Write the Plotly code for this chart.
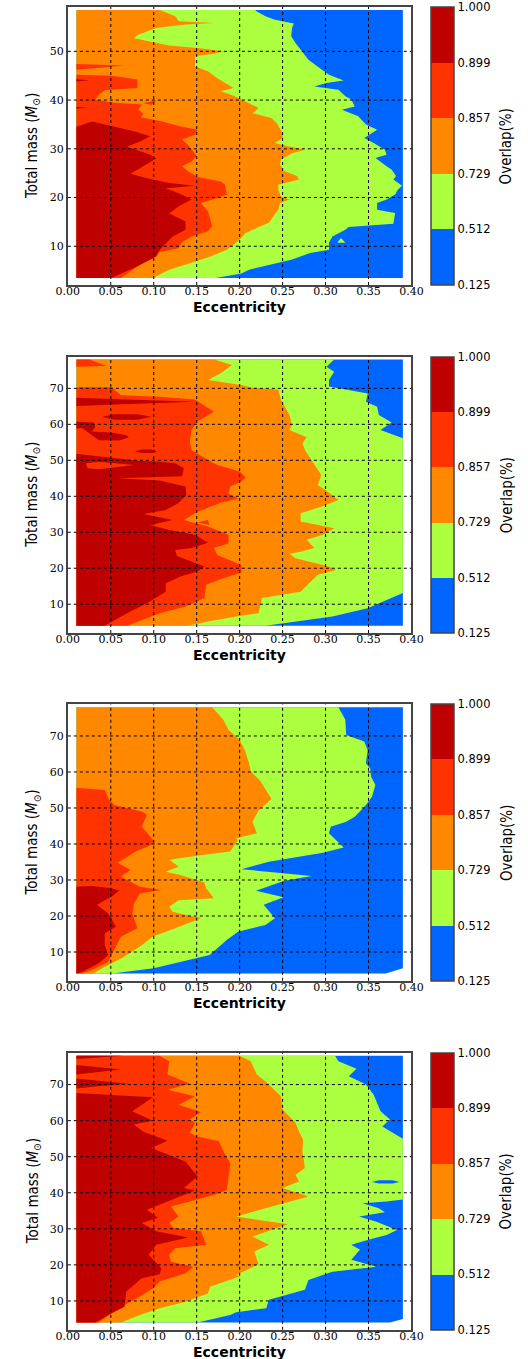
import plotly.graph_objects as go

W, H = 528, 1359

# Overlap levels and the colour of each band between consecutive levels
LEVELS = [0.125, 0.512, 0.729, 0.857, 0.899, 1.000]
BAND_COLORS = ["#0066FF", "#ABFF3F", "#FF8800", "#FF3300", "#BF0000"]

ECC_TICKS = [0.00, 0.05, 0.10, 0.15, 0.20, 0.25, 0.30, 0.35, 0.40]
MASS_TICKS_SHORT = [10, 20, 30, 40, 50]
MASS_TICKS_LONG = [10, 20, 30, 40, 50, 60, 70]

ECC_MIN = 0.01  # smallest eccentricity of the computed grid

# ---------------------------------------------------------------- panel 1
P1_OUT_E = [0.01, 0.39, 0.39, 0.01]
P1_OUT_M = [58.5, 58.5, 3.5, 3.5]

P1_M_512 = [58.5, 58.2, 57.2, 56.5, 55.7, 54.8, 53.1, 51.7, 50.0, 48.3, 46.6, 45.2, 44.0, 43.5, 42.8,
            42.1, 40.8, 40.1, 38.7, 38.0, 36.7, 35.0, 33.9, 32.2, 31.2, 29.8, 28.8, 28.1, 26.4, 25.7,
            24.4, 23.7, 22.4, 21.6, 20.6, 19.6, 18.9, 17.5, 16.8, 14.6, 13.95, 13.4, 12.0, 10.7, 9.3,
            8.6, 7.25, 5.9, 5.2, 4.4, 3.5]
P1_E_512 = [0.218, 0.220, 0.230, 0.241, 0.263, 0.261, 0.260, 0.265, 0.273, 0.280, 0.293, 0.304, 0.321,
            0.301, 0.287, 0.315, 0.323, 0.330, 0.334, 0.319, 0.338, 0.347, 0.360, 0.345, 0.356, 0.369,
            0.371, 0.358, 0.371, 0.377, 0.382, 0.379, 0.389, 0.384, 0.381, 0.371, 0.360, 0.360, 0.381,
            0.379, 0.327, 0.323, 0.308, 0.304, 0.304, 0.282, 0.260, 0.226, 0.211, 0.202, 0.172]

P1_M_729 = [58.5, 57.2, 56.2, 55.8, 55.5, 54.8, 53.4, 52.7, 52.1, 51.2, 50.7, 50.0, 49.5, 49.0, 46.9,
            45.9, 44.5, 43.5, 42.5, 41.8, 40.9, 40.1, 39.4, 38.4, 37.3, 36.3, 35.3, 33.2, 32.2, 31.2,
            30.8, 29.8, 29.1, 27.8, 26.7, 25.4, 24.4, 23.7, 22.6, 21.6, 20.2, 19.6, 18.9, 17.5, 16.1,
            14.8, 13.7, 12.7, 11.4, 10.3, 9.3, 7.9, 6.6, 5.2, 3.5]
P1_E_729 = [0.107, 0.125, 0.129, 0.170, 0.137, 0.103, 0.082, 0.077, 0.092, 0.118, 0.151, 0.181, 0.170,
            0.148, 0.148, 0.163, 0.174, 0.183, 0.193, 0.178, 0.193, 0.202, 0.211, 0.222, 0.215, 0.237,
            0.243, 0.250, 0.250, 0.241, 0.250, 0.276, 0.261, 0.248, 0.247, 0.252, 0.267, 0.269, 0.245,
            0.245, 0.248, 0.258, 0.247, 0.245, 0.239, 0.234, 0.219, 0.207, 0.200, 0.193, 0.185, 0.166,
            0.144, 0.118, 0.099]

P1_M_857 = [47.4, 47.1, 46.2, 45.2, 45.0, 44.2, 42.5, 42.0, 41.1, 40.1, 39.5, 39.1, 38.0, 37.2, 36.5,
            35.6, 34.7, 33.9, 32.9, 31.9, 30.8, 28.5, 27.4, 26.4, 25.4, 24.2, 23.3, 22.6, 20.6, 19.9,
            18.9, 17.2, 14.1, 13.1, 12.0, 10.8, 9.6, 8.8, 6.2, 3.5]
P1_E_857 = [0.01, 0.066, 0.01, 0.01, 0.051, 0.081, 0.081, 0.043, 0.036, 0.032, 0.051, 0.086, 0.082,
            0.088, 0.085, 0.110, 0.129, 0.151, 0.148, 0.133, 0.140, 0.150, 0.144, 0.133, 0.140, 0.151,
            0.178, 0.183, 0.185, 0.174, 0.155, 0.163, 0.168, 0.163, 0.144, 0.133, 0.129, 0.107, 0.084,
            0.062]

P1_M_899 = [34.5, 35.6, 34.7, 33.6, 32.6, 31.5, 30.4, 28.8, 28.0, 26.4, 24.9, 24.0, 23.0, 22.4, 21.9,
            20.9, 19.6, 18.2, 16.7, 15.1, 13.4, 12.0, 9.3, 7.9, 5.9, 3.5]
P1_E_899 = [0.01, 0.028, 0.051, 0.077, 0.096, 0.084, 0.069, 0.096, 0.103, 0.088, 0.073, 0.091, 0.118,
            0.148, 0.114, 0.129, 0.144, 0.129, 0.118, 0.137, 0.137, 0.122, 0.107, 0.103, 0.081, 0.051]

P1_ISLE_GREEN_M = [10.7, 10.7, 11.7]
P1_ISLE_GREEN_E = [0.3135, 0.323, 0.318]
P1_ISLE_RED_M = [39.4, 39.9, 39.0]
P1_ISLE_RED_E = [0.088, 0.103, 0.097]
P1_ISLE_DARK_A_M = [38.6, 38.4, 38.2]
P1_ISLE_DARK_A_E = [0.01, 0.023, 0.01]
P1_ISLE_DARK_B_M = [44.25, 44.05, 43.8]
P1_ISLE_DARK_B_E = [0.01, 0.025, 0.01]

# ---------------------------------------------------------------- panel 2
P2_OUT_E = [0.01, 0.39, 0.39, 0.01]
P2_OUT_M = [78.0, 78.0, 4.0, 4.0]

P2_M_512 = [78.0, 76.0, 74.6, 72.3, 70.5, 68.6, 66.3, 64.9, 62.6, 60.5, 58.4, 56.1, 13.1, 8.9, 6.6, 4.0]
P2_E_512 = [0.310, 0.301, 0.310, 0.304, 0.304, 0.349, 0.347, 0.360, 0.362, 0.377, 0.364, 0.39, 0.39,
            0.349, 0.308, 0.230]

P2_M_729 = [78.0, 76.5, 74.2, 72.3, 70.9, 70.2, 69.7, 66.8, 62.6, 59.8, 58.4, 56.4, 54.7, 52.9, 50.6,
            48.7, 45.9, 43.1, 41.9, 39.0, 37.1, 35.3, 33.0, 31.1, 29.3, 27.9, 25.6, 24.6, 24.0, 22.8,
            20.5, 19.5, 18.2, 13.5, 11.7, 7.5, 6.6, 5.2, 4.0]
P2_E_729 = [0.170, 0.191, 0.178, 0.163, 0.202, 0.215, 0.245, 0.248, 0.258, 0.261, 0.258, 0.278, 0.273,
            0.276, 0.282, 0.287, 0.295, 0.291, 0.299, 0.315, 0.295, 0.271, 0.271, 0.310, 0.297, 0.278,
            0.287, 0.271, 0.258, 0.265, 0.304, 0.312, 0.291, 0.271, 0.226, 0.222, 0.196, 0.163, 0.140]

P2_M_857 = [78.0, 78.0, 76.2, 76.0, 70.3, 70.3, 68.1, 67.7, 66.9, 63.5, 60.7, 58.4, 55.2, 52.9, 50.1,
            48.7, 46.9, 45.2, 44.1, 42.7, 40.8, 39.4, 38.2, 35.7, 33.4, 31.6, 29.3, 26.9, 25.6, 23.7,
            20.9, 18.8, 17.2, 15.4, 11.7, 9.4, 7.5, 4.0]
P2_E_857 = [0.01, 0.025, 0.045, 0.01, 0.01, 0.051, 0.062, 0.107, 0.148, 0.170, 0.150, 0.144, 0.142,
            0.144, 0.163, 0.174, 0.200, 0.207, 0.202, 0.189, 0.187, 0.198, 0.178, 0.151, 0.135, 0.163,
            0.187, 0.187, 0.170, 0.174, 0.202, 0.202, 0.181, 0.161, 0.159, 0.137, 0.107, 0.069]

P2_M_899 = [51.8, 51.2, 50.6, 49.9, 49.6, 49.2, 47.8, 45.6, 45.0, 44.4, 42.7, 40.4, 38.1, 36.2, 35.1,
            33.4, 32.0, 30.6, 29.3, 27.1, 25.6, 25.1, 23.4, 20.5, 19.1, 17.7, 15.8, 13.5, 10.3, 7.5, 4.0]
P2_E_899 = [0.01, 0.032, 0.054, 0.081, 0.107, 0.125, 0.135, 0.133, 0.058, 0.107, 0.137, 0.138, 0.129,
            0.114, 0.088, 0.122, 0.096, 0.118, 0.148, 0.163, 0.144, 0.125, 0.127, 0.159, 0.151, 0.131,
            0.114, 0.114, 0.092, 0.069, 0.043]

P2_ISLE_RED_A_M = [49.2, 49.6, 48.7, 47.5, 47.8]
P2_ISLE_RED_A_E = [0.021, 0.036, 0.077, 0.036, 0.023]
P2_ISLE_RED_B_M = [32.7, 33.4, 32.0]
P2_ISLE_RED_B_E = [0.151, 0.163, 0.165]
P2_ISLE_DARK_A_M = [67.4, 66.9, 66.3, 65.8, 65.1]
P2_ISLE_DARK_A_E = [0.01, 0.069, 0.148, 0.088, 0.01]
P2_ISLE_DARK_B_M = [62.1, 62.8, 62.8, 62.1, 61.3, 61.3]
P2_ISLE_DARK_B_E = [0.040, 0.054, 0.081, 0.097, 0.081, 0.054]
P2_ISLE_DARK_C_M = [60.7, 60.5, 59.2, 58.0, 57.7, 57.0, 56.4, 55.5, 55.6, 57.0, 58.9, 58.9]
P2_ISLE_DARK_C_E = [0.01, 0.030, 0.032, 0.028, 0.051, 0.068, 0.071, 0.060, 0.036, 0.028, 0.017, 0.01]
P2_ISLE_DARK_D_M = [52.5, 53.0, 53.0, 52.5, 52.0, 52.0]
P2_ISLE_DARK_D_E = [0.078, 0.086, 0.097, 0.104, 0.097, 0.086]

# ---------------------------------------------------------------- panel 3
P3_OUT_E = [0.01, 0.39, 0.39, 0.37, 0.01]
P3_OUT_M = [78.0, 78.0, 5.5, 4.0, 4.0]

P3_M_512 = [78.0, 74.5, 70.3, 68.5, 66.1, 62.4, 61.0, 58.7, 56.4, 53.1, 50.8, 47.6, 46.2, 44.8, 43.0,
            39.0, 37.6, 35.1, 33.0, 31.1, 29.8, 27.0, 25.2, 23.1, 19.4, 17.5, 15.6, 13.3, 9.2, 5.5, 4.0]
P3_E_512 = [0.315, 0.323, 0.324, 0.345, 0.349, 0.347, 0.352, 0.353, 0.358, 0.354, 0.347, 0.334, 0.324,
            0.306, 0.304, 0.321, 0.297, 0.234, 0.202, 0.284, 0.252, 0.219, 0.251, 0.228, 0.241, 0.230,
            0.198, 0.185, 0.165, 0.100, 0.052]

P3_M_729 = [78.0, 74.5, 71.7, 68.9, 66.1, 62.4, 60.1, 57.6, 52.5, 49.3, 46.2, 43.0, 41.6, 41.1, 37.9,
            36.9, 35.6, 33.7, 32.3, 31.4, 29.3, 27.7, 24.9, 24.4, 22.6, 21.2, 19.4, 16.6, 14.3, 11.5,
            8.2, 5.5, 4.0]
P3_E_729 = [0.168, 0.181, 0.187, 0.200, 0.206, 0.211, 0.213, 0.224, 0.237, 0.222, 0.215, 0.220, 0.196,
            0.198, 0.189, 0.155, 0.118, 0.129, 0.114, 0.131, 0.159, 0.161, 0.170, 0.129, 0.118, 0.122,
            0.155, 0.125, 0.099, 0.084, 0.062, 0.040, 0.030]

P3_M_857 = [55.6, 55.0, 52.7, 50.8, 49.0, 48.1, 44.8, 42.5, 40.6, 39.7, 37.9, 34.8, 32.8, 30.9, 28.1,
            27.2, 26.3, 23.5, 20.7, 16.6, 14.3, 10.6, 7.3, 5.0, 4.0]
P3_E_857 = [0.01, 0.043, 0.047, 0.054, 0.086, 0.092, 0.086, 0.094, 0.101, 0.097, 0.079, 0.058, 0.073,
            0.062, 0.084, 0.109, 0.084, 0.077, 0.075, 0.081, 0.062, 0.054, 0.047, 0.028, 0.017]

P3_M_899 = [28.1, 28.3, 27.7, 27.0, 25.4, 23.1, 20.7, 17.0, 15.2, 11.9, 9.2, 6.9, 4.5, 4.0]
P3_E_899 = [0.01, 0.028, 0.051, 0.060, 0.051, 0.034, 0.047, 0.056, 0.043, 0.043, 0.047, 0.036, 0.017,
            0.010]

# ---------------------------------------------------------------- panel 4
P4_OUT_E = [0.01, 0.39, 0.39, 0.375, 0.01]
P4_OUT_M = [78.0, 78.0, 5.0, 4.0, 4.0]

P4_M_512 = [78.0, 76.5, 74.4, 72.3, 70.0, 67.2, 62.6, 60.3, 58.4, 55.0, 38.1, 37.6, 37.1, 35.7, 34.6,
            33.4, 31.9, 29.7, 28.3, 27.2, 25.6, 24.2, 21.4, 19.5, 18.1, 15.8, 13.1, 10.3, 8.0, 6.9,
            6.1, 4.0]
P4_E_512 = [0.311, 0.315, 0.336, 0.327, 0.347, 0.356, 0.364, 0.375, 0.366, 0.39, 0.39, 0.371, 0.343,
            0.362, 0.369, 0.339, 0.360, 0.383, 0.371, 0.353, 0.330, 0.340, 0.330, 0.359, 0.308, 0.280,
            0.276, 0.234, 0.231, 0.196, 0.189, 0.151]

P4_M_729 = [78.0, 76.5, 72.8, 70.5, 66.8, 63.1, 59.4, 57.0, 54.7, 51.5, 46.9, 45.0, 43.1, 41.3, 39.0,
            36.7, 33.4, 31.3, 27.9, 25.6, 23.7, 20.2, 17.2, 16.8, 14.0, 12.1, 9.8, 8.0, 6.1, 4.0]
P4_E_729 = [0.200, 0.213, 0.220, 0.232, 0.248, 0.250, 0.265, 0.269, 0.274, 0.273, 0.276, 0.265, 0.269,
            0.250, 0.280, 0.245, 0.196, 0.256, 0.215, 0.234, 0.217, 0.222, 0.196, 0.200, 0.166, 0.163,
            0.137, 0.107, 0.084, 0.062]

P4_M_857 = [78.0, 76.5, 72.8, 70.2, 68.6, 66.8, 64.4, 62.4, 60.3, 59.4, 56.6, 55.6, 54.3, 51.5, 48.2,
            44.1, 40.8, 39.4, 38.1, 36.2, 33.4, 31.6, 30.2, 29.3, 25.6, 24.6, 22.8, 20.9, 19.5, 17.7,
            15.4, 13.5, 11.2, 8.9, 6.6, 4.0]
P4_E_857 = [0.107, 0.118, 0.116, 0.142, 0.116, 0.148, 0.129, 0.155, 0.142, 0.148, 0.142, 0.151, 0.176,
            0.181, 0.189, 0.187, 0.185, 0.170, 0.150, 0.120, 0.129, 0.118, 0.123, 0.155, 0.161, 0.125,
            0.118, 0.120, 0.146, 0.137, 0.107, 0.099, 0.084, 0.066, 0.051, 0.036]

P4_M_899 = [67.7, 66.5, 62.6, 60.0, 58.9, 56.9, 54.4, 52.4, 48.7, 44.5, 41.3, 40.6, 35.3, 33.1, 31.6,
            29.3, 27.6, 25.6, 22.8, 19.1, 17.4, 16.3, 12.6, 8.4, 6.1, 4.0]
P4_E_899 = [0.01, 0.099, 0.075, 0.099, 0.077, 0.088, 0.116, 0.097, 0.137, 0.151, 0.135, 0.148, 0.092,
            0.105, 0.086, 0.103, 0.140, 0.103, 0.094, 0.109, 0.107, 0.086, 0.068, 0.066, 0.047, 0.032]

P4_ISLE_BLUE_M = [43.0, 43.45, 43.45, 43.0, 42.55, 42.55]
P4_ISLE_BLUE_E = [0.354, 0.362, 0.378, 0.386, 0.378, 0.362]
P4_ISLE_DARK_A_M = [78.0, 78.0, 77.6, 77.1]
P4_ISLE_DARK_A_E = [0.01, 0.064, 0.040, 0.01]
P4_ISLE_DARK_B_M = [75.4, 74.2, 72.8]
P4_ISLE_DARK_B_E = [0.01, 0.062, 0.01]
P4_ISLE_DARK_C_M = [71.7, 71.1, 70.2, 69.5, 68.9]
P4_ISLE_DARK_C_E = [0.01, 0.032, 0.071, 0.032, 0.01]

# ---------------------------------------------------------------- layout (pixels)
PANEL_TOP = [7.0, 356.7, 704.3, 1052.5]
PANEL_BOTTOM = [285.0, 633.0, 980.8, 1329.8]
PANEL_YRANGE = [[2.05, 59.1], [2.0, 78.8], [2.0, 78.8], [2.0, 78.9]]
AX_LEFT, AX_RIGHT = 58.5, 418.5
CB_LEFT, CB_WIDTH = 439.0, 23.0

panels = [
    dict(outline=(P1_OUT_M, P1_OUT_E),
         bounds=[(P1_M_512, P1_E_512), (P1_M_729, P1_E_729), (P1_M_857, P1_E_857), (P1_M_899, P1_E_899)],
         isles=[(1, P1_ISLE_GREEN_M, P1_ISLE_GREEN_E), (3, P1_ISLE_RED_M, P1_ISLE_RED_E),
                (4, P1_ISLE_DARK_A_M, P1_ISLE_DARK_A_E), (4, P1_ISLE_DARK_B_M, P1_ISLE_DARK_B_E)],
         yticks=MASS_TICKS_SHORT),
    dict(outline=(P2_OUT_M, P2_OUT_E),
         bounds=[(P2_M_512, P2_E_512), (P2_M_729, P2_E_729), (P2_M_857, P2_E_857), (P2_M_899, P2_E_899)],
         isles=[(4, P2_ISLE_DARK_A_M, P2_ISLE_DARK_A_E), (4, P2_ISLE_DARK_B_M, P2_ISLE_DARK_B_E),
                (4, P2_ISLE_DARK_C_M, P2_ISLE_DARK_C_E), (4, P2_ISLE_DARK_D_M, P2_ISLE_DARK_D_E),
                (3, P2_ISLE_RED_A_M, P2_ISLE_RED_A_E), (3, P2_ISLE_RED_B_M, P2_ISLE_RED_B_E)],
         yticks=MASS_TICKS_LONG),
    dict(outline=(P3_OUT_M, P3_OUT_E),
         bounds=[(P3_M_512, P3_E_512), (P3_M_729, P3_E_729), (P3_M_857, P3_E_857), (P3_M_899, P3_E_899)],
         isles=[],
         yticks=MASS_TICKS_LONG),
    dict(outline=(P4_OUT_M, P4_OUT_E),
         bounds=[(P4_M_512, P4_E_512), (P4_M_729, P4_E_729), (P4_M_857, P4_E_857), (P4_M_899, P4_E_899)],
         isles=[(0, P4_ISLE_BLUE_M, P4_ISLE_BLUE_E), (4, P4_ISLE_DARK_A_M, P4_ISLE_DARK_A_E),
                (4, P4_ISLE_DARK_B_M, P4_ISLE_DARK_B_E), (4, P4_ISLE_DARK_C_M, P4_ISLE_DARK_C_E)],
         yticks=MASS_TICKS_LONG),
]

TICK_FONT = dict(family="DejaVu Serif", size=11, color="black")
CB_FONT = dict(family="DejaVu Sans", size=11.5, color="black")
NARROW = "Liberation Sans Narrow, DejaVu Sans Condensed, Liberation Sans, sans-serif"


def px_x(x):
    return x / W


def px_y(y):
    return 1 - y / H


def poly(fig, xs, ys, color, ax):
    fig.add_trace(go.Scatter(
        x=list(xs) + [xs[0]], y=list(ys) + [ys[0]], mode="lines", fill="toself",
        fillcolor=color, line=dict(width=0, color=color), hoverinfo="skip",
        showlegend=False, xaxis="x" + ax, yaxis="y" + ax))


# discrete colour scale: one flat band per level interval
nb = len(BAND_COLORS)
colorscale = []
for k, c in enumerate(BAND_COLORS):
    colorscale.append([k / nb, c])
    colorscale.append([(k + 1) / nb, c])

fig = go.Figure()
layout = dict(width=W, height=H, margin=dict(l=0, r=0, t=0, b=0), autosize=False,
              paper_bgcolor="white", plot_bgcolor="white", showlegend=False)
shapes, annotations = [], []

for i, p in enumerate(panels):
    ax = "" if i == 0 else str(i + 1)
    top, bot = PANEL_TOP[i], PANEL_BOTTOM[i]

    # lowest band fills the whole computed region
    om, oe = p["outline"]
    poly(fig, oe, om, BAND_COLORS[0], ax)
    # each higher band: from the left edge of the grid out to its contour
    for k, (m, e) in enumerate(p["bounds"], start=1):
        xs = [ECC_MIN] + list(e) + [ECC_MIN]
        ys = [m[0]] + list(m) + [m[-1]]
        poly(fig, xs, ys, BAND_COLORS[k], ax)
    for k, m, e in p["isles"]:
        poly(fig, e, m, BAND_COLORS[k], ax)

    # colour bar for this panel
    fig.add_trace(go.Scatter(
        x=[None], y=[None], mode="markers", showlegend=False, hoverinfo="skip",
        xaxis="x" + ax, yaxis="y" + ax,
        marker=dict(color=[0], cmin=0, cmax=nb, colorscale=colorscale, showscale=True,
                    colorbar=dict(
                        x=px_x(CB_LEFT), xanchor="left", xpad=0, ypad=0,
                        y=px_y((top + bot) / 2), yanchor="middle",
                        len=(bot - top) / H, lenmode="fraction",
                        thickness=CB_WIDTH, thicknessmode="pixels",
                        outlinecolor="#444444", outlinewidth=1.5,
                        tickmode="array", tickvals=list(range(nb + 1)),
                        ticktext=[f"{v:.3f}" for v in LEVELS],
                        ticks="", tickfont=CB_FONT))))

    layout["xaxis" + ax] = dict(
        domain=[px_x(AX_LEFT), px_x(AX_RIGHT)], range=[0, 0.4], anchor="y" + ax,
        tickmode="array", tickvals=ECC_TICKS, ticktext=[f"{t:.2f}" for t in ECC_TICKS],
        tickfont=TICK_FONT, showgrid=False, zeroline=False, ticks="", ticklabelstandoff=-5,
        showline=True, linecolor="#444444", linewidth=2, mirror=True, layer="above traces")
    layout["yaxis" + ax] = dict(
        domain=[px_y(bot), px_y(top)], range=PANEL_YRANGE[i], anchor="x" + ax,
        tickmode="array", tickvals=p["yticks"], ticktext=[str(t) for t in p["yticks"]],
        tickfont=TICK_FONT, showgrid=False, zeroline=False, ticks="",
        showline=True, linecolor="#444444", linewidth=2, mirror=True, layer="above traces")

    # dotted grid drawn over the filled contours
    xref = "x" + ax
    yref = "y" + ax
    for t in ECC_TICKS[1:-1]:
        shapes.append(dict(type="line", xref=xref, yref=yref + " domain", x0=t, x1=t, y0=0, y1=1,
                           line=dict(color="black", width=1, dash="dot"), layer="above"))
    for t in p["yticks"]:
        shapes.append(dict(type="line", xref=xref + " domain", yref=yref, x0=0, x1=1, y0=t, y1=t,
                           line=dict(color="black", width=1, dash="dot"), layer="above"))

    annotations.append(dict(text="<b>Eccentricity</b>", xref="paper", yref="paper",
                            x=px_x((AX_LEFT + AX_RIGHT) / 2), y=px_y(bot + 22),
                            xanchor="center", yanchor="middle", showarrow=False,
                            font=dict(family="DejaVu Sans", size=14, color="black")))
    annotations.append(dict(text="Total mass (<i>M</i><sub>⊙</sub>)", xref="paper", yref="paper",
                            x=px_x(22), y=px_y((top + bot) / 2), textangle=-90,
                            xanchor="center", yanchor="middle", showarrow=False,
                            font=dict(family=NARROW, size=15, color="black")))
    annotations.append(dict(text="Overlap(%)", xref="paper", yref="paper",
                            x=px_x(518), y=px_y((top + bot) / 2), textangle=-90,
                            xanchor="center", yanchor="middle", showarrow=False,
                            font=dict(family=NARROW, size=15, color="black")))

layout["shapes"] = shapes
layout["annotations"] = annotations
fig.update_layout(**layout)
fig.write_html("out.html")
